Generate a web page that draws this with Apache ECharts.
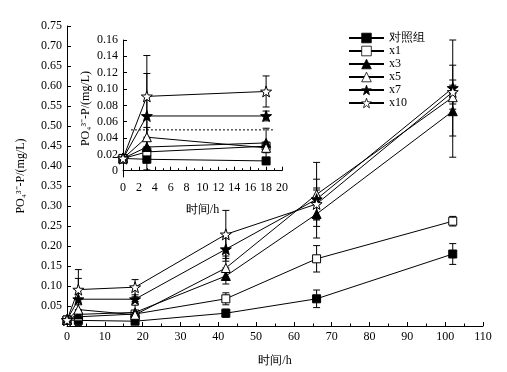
<!DOCTYPE html>
<html><head><meta charset="utf-8">
<script src="https://cdn.jsdelivr.net/npm/echarts@6/dist/echarts.min.js"></script>
<style>html,body{margin:0;padding:0;background:#fff}#c{width:507px;height:372px}</style>
</head><body><div id="c"></div>
<script>
const times = [0, 3, 18, 42, 66, 102];
const seriesNames = ['对照组', 'x1', 'x3', 'x5', 'x7', 'x10'];
const control = [0.015, 0.014, 0.012, 0.032, 0.068, 0.180];
const x1 = [0.015, 0.023, 0.030, 0.068, 0.168, 0.262];
const x3 = [0.015, 0.029, 0.034, 0.125, 0.280, 0.537];
const x5 = [0.015, 0.041, 0.028, 0.145, 0.329, 0.572];
const x7 = [0.015, 0.067, 0.067, 0.192, 0.317, 0.595];
const x10 = [0.015, 0.091, 0.097, 0.229, 0.305, 0.585];
const controlErr = [0.002, 0.013, 0.004, 0.010, 0.022, 0.026];
const x1Err = [0.002, 0.006, 0.005, 0.015, 0.033, 0.012];
const x3Err = [0.002, 0.010, 0.018, 0.020, 0.060, 0.115];
const x5Err = [0.002, 0.012, 0.006, 0.030, 0.080, 0.030];
const x7Err = [0.002, 0.052, 0.006, 0.030, 0.050, 0.120];
const x10Err = [0.002, 0.050, 0.019, 0.060, 0.040, 0.030];
const insetMaxTime = 20;
const thresholdLine = [[1, 0.05], [19, 0.05]];
const insetYTicks = [0, 0.02, 0.04, 0.06, 0.08, 0.10, 0.12, 0.14, 0.16];

const values = [control, x1, x3, x5, x7, x10];
const errs = [controlErr, x1Err, x3Err, x5Err, x7Err, x10Err];
const STAR = 'path://M0,-10 L2.35,-3.24 L9.51,-3.09 L3.8,1.24 L5.88,8.09 L0,4 L-5.88,8.09 L-3.8,1.24 L-9.51,-3.09 L-2.35,-3.24 Z';
const styles = [
  {symbol: 'rect', fill: '#000', size: 8},
  {symbol: 'rect', fill: '#fff', size: 8},
  {symbol: 'triangle', fill: '#000', size: 9},
  {symbol: 'triangle', fill: '#fff', size: 9},
  {symbol: STAR, fill: '#000', size: 11},
  {symbol: STAR, fill: '#fff', size: 11}
];
const FONT = 'Liberation Serif';

function lineSeries(i, gi) {
  const data = [];
  times.forEach((t, k) => { if (gi === 0 || t <= insetMaxTime) data.push([t, values[i][k]]); });
  return {
    type: 'line', name: seriesNames[i], xAxisIndex: gi, yAxisIndex: gi,
    data: data, symbol: styles[i].symbol, symbolSize: styles[i].size, showAllSymbol: true,
    lineStyle: {color: '#000', width: 1},
    itemStyle: {color: styles[i].fill, borderColor: '#000', borderWidth: 1},
    emphasis: {disabled: true}, animation: false, z: 3 + i * 0.01
  };
}
function errSeries(gi) {
  const data = [];
  values.forEach((v, i) => times.forEach((t, k) => {
    if (gi === 0 || t <= insetMaxTime) data.push([t, v[k] - errs[i][k], v[k] + errs[i][k]]);
  }));
  return {
    type: 'custom', xAxisIndex: gi, yAxisIndex: gi, data: data, animation: false, z: 2,
    renderItem: function (params, api) {
      const lo = api.coord([api.value(0), api.value(1)]);
      const hi = api.coord([api.value(0), api.value(2)]);
      const w = 3.5;
      const st = {stroke: '#000', lineWidth: 1};
      return {type: 'group', children: [
        {type: 'line', shape: {x1: lo[0], y1: lo[1], x2: hi[0], y2: hi[1]}, style: st},
        {type: 'line', shape: {x1: lo[0] - w, y1: lo[1], x2: lo[0] + w, y2: lo[1]}, style: st},
        {type: 'line', shape: {x1: hi[0] - w, y1: hi[1], x2: hi[0] + w, y2: hi[1]}, style: st}
      ]};
    }
  };
}
const axisCommon = {
  axisLine: {lineStyle: {color: '#000', width: 1}},
  axisTick: {inside: true, length: 4, lineStyle: {color: '#000'}},
  splitLine: {show: false},
  axisLabel: {color: '#000', fontFamily: FONT, fontSize: 12, margin: 5},
  nameTextStyle: {color: '#000', fontFamily: FONT, fontSize: 12}
};
const series = [errSeries(0), errSeries(1)];
for (let i = 0; i < 6; i++) series.push(lineSeries(i, 0));
for (let i = 0; i < 6; i++) series.push(lineSeries(i, 1));
series.push({type: 'line', xAxisIndex: 1, yAxisIndex: 1, data: thresholdLine, symbol: 'none',
  lineStyle: {color: '#000', width: 1, type: [2, 2]}, animation: false, z: 1});

const legendData = seriesNames.map((n, i) => ({
  name: n, itemStyle: {color: styles[i].fill, borderColor: '#000', borderWidth: 0.8}
}));

const option = {
  backgroundColor: '#fff',
  animation: false,
  legend: {
    data: legendData, orient: 'vertical', left: 343, top: 27,
    itemWidth: 35, itemHeight: 12, itemGap: 1,
    textStyle: {color: '#000', fontFamily: FONT, fontSize: 12},
    inactiveColor: '#000'
  },
  grid: [
    {left: 67, right: 24, top: 26, bottom: 39},
    {left: 123, width: 159, top: 40, height: 137}
  ],
  xAxis: [
    Object.assign({}, axisCommon, {gridIndex: 0, type: 'value', min: 0, max: 110, interval: 10,
      name: '时间/h', nameLocation: 'middle', nameGap: 29,
      minorTick: {show: true, splitNumber: 2, length: 2.5, lineStyle: {color: '#000'}}}),
    Object.assign({}, axisCommon, {gridIndex: 1, type: 'value', min: 0, max: 20, interval: 2,
      name: '时间/h', nameLocation: 'middle', nameGap: 27,
      minorTick: {show: true, splitNumber: 2, length: 2.5, lineStyle: {color: '#000'}}})
  ],
  yAxis: [
    Object.assign({}, axisCommon, {gridIndex: 0, type: 'value', min: 0, max: 0.75, interval: 0.05,
      name: 'PO₄³⁻-P/(mg/L)', nameLocation: 'middle', nameGap: 40,
      axisLabel: Object.assign({}, axisCommon.axisLabel, {showMinLabel: false,
        formatter: v => v.toFixed(2)})}),
    Object.assign({}, axisCommon, {gridIndex: 1, type: 'value', min: -0.0077, max: 0.16,
      name: 'PO₄³⁻-P/(mg/L)', nameLocation: 'middle', nameGap: 31,
      axisTick: {inside: true, length: 4, lineStyle: {color: '#000'}, customValues: insetYTicks},
      axisLabel: Object.assign({}, axisCommon.axisLabel, {customValues: insetYTicks,
        formatter: v => (Math.abs(v) < 1e-9 ? '0' : v.toFixed(2))})})
  ],
  series: series
};
const chart = echarts.init(document.getElementById('c'), null, {renderer: 'canvas'});
chart.setOption(option);
</script></body></html>
